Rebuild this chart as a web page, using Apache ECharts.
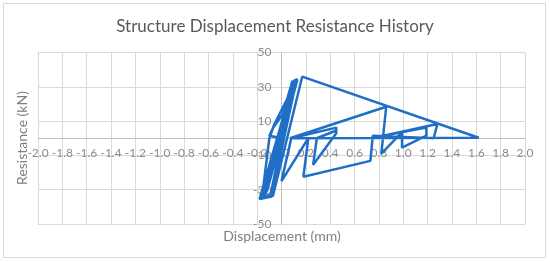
<!DOCTYPE html>
<html>
<head>
<meta charset="utf-8">
<script src="https://cdn.jsdelivr.net/npm/echarts@6/dist/echarts.min.js"></script>
<style>
    * { margin: 0; padding: 0; }
    body { background: #fff; }
    #main { width: 550px; height: 262px; }
</style>
</head>
<body>
<div id="main"></div>
<script>
    // displacement (mm) / resistance (kN) history
    let dispX = [
        0.00, -0.10, -0.07, 0.01, 0.09, -0.14, 0.11, -0.17, -0.08, 0.12,
        -0.16, -0.10, -0.06, 0.13, 0.10, -0.18, -0.08, 0.11, -0.13, 0.12,
        -0.15, -0.09, 0.10, -0.12, 0.13, -0.17, -0.07, 0.17,
        1.62, 0.07, 0.86, 0.82, 0.99, 0.99, 1.19, 1.19, 0.77, 1.28, 1.25,
        0.75, 0.73, 0.18, 0.22, 0.00, 0.08, 0.45, 0.45, 0.26, 0.29, 0.45
    ]
    let resY = [
        0.0, 1.5, 6.0, 14.0, 33.5, -33.0, 34.0, -35.0, -33.5, 33.0,
        -34.5, 0.0, 8.0, 34.5, 33.5, -35.5, -34.0, 32.0, -32.5, 34.0,
        -34.0, -33.0, 33.0, -31.0, 34.0, -35.0, -33.5, 35.9,
        0.3, 0.0, 18.4, -9.0, 3.5, -5.5, 1.5, 6.2, 0.5, 8.3, 0.0,
        1.5, -13.2, -22.4, 0.0, -25.0, 0.0, 6.2, 2.9, -15.5, 0.0, 4.5
    ]
    let xTicks = {min: -2, max: 2, step: 0.2}
    let yTicks = {min: -50, max: 50, step: 20}

    let points = dispX.map((x, i) => [x, resY[i]])

    // plot box, the axes cross at 0 like in the sheet
    let gLeft = 38, gRight = 25, gTop = 52.5, gBottom = 38
    let plotW = 550 - gLeft - gRight
    let plotH = 262 - gTop - gBottom
    let yAxisShift = plotW * (0 - xTicks.min) / (xTicks.max - xTicks.min)
    let xAxisShift = plotH * (0 - yTicks.min) / (yTicks.max - yTicks.min)

    let myChart = echarts.init(document.getElementById('main'))
    let option = {
        animation: false,
        title: {
            text: 'Structure Displacement Resistance History',
            left: 'center',
            top: 13,
            textStyle: {
                color: '#595959',
                fontFamily: 'Lato',
                fontSize: 17,
                fontWeight: 'normal'
            }
        },
        grid: {
            left: gLeft,
            right: gRight,
            top: gTop,
            bottom: gBottom
        },
        graphic: [
            {
                type: 'rect',
                shape: {x: 3.5, y: 3.5, width: 542, height: 254},
                style: {fill: 'none', stroke: '#d9d9d9', lineWidth: 1},
                silent: true
            },
            {
                type: 'text',
                x: 22,
                y: 138,
                rotation: Math.PI / 2,
                style: {
                    text: 'Resistance (kN)',
                    fill: '#7f7f7f',
                    font: '14px Lato',
                    align: 'center',
                    verticalAlign: 'middle'
                }
            },
            {
                type: 'text',
                x: 282,
                y: 236,
                style: {
                    text: 'Displacement (mm)',
                    fill: '#7f7f7f',
                    font: '14px Lato',
                    align: 'center',
                    verticalAlign: 'middle'
                }
            }
        ],
        xAxis: {
            type: 'value',
            min: xTicks.min,
            max: xTicks.max,
            interval: xTicks.step,
            offset: -xAxisShift,
            axisLine: {onZero: false, lineStyle: {color: '#bfbfbf', width: 1}},
            axisTick: {show: false},
            axisLabel: {
                interval: 0,
                margin: 9,
                color: '#8c8c8c',
                fontFamily: 'Lato',
                fontSize: 12,
                formatter: function (v) {
                    if (Math.abs(v) < 1e-9) return '0.0'
                    return v.toFixed(1)
                }
            },
            splitLine: {lineStyle: {color: '#d9d9d9', width: 1}}
        },
        yAxis: {
            type: 'value',
            min: yTicks.min,
            max: yTicks.max,
            interval: yTicks.step,
            offset: -yAxisShift,
            axisLine: {show: true, onZero: false, lineStyle: {color: '#bfbfbf', width: 1}},
            axisTick: {show: false},
            axisLabel: {
                margin: 10,
                color: '#8c8c8c',
                fontFamily: 'Lato',
                fontSize: 12
            },
            splitLine: {lineStyle: {color: '#d9d9d9', width: 1}}
        },
        series: [
            {
                name: 'History',
                type: 'line',
                data: points,
                showSymbol: false,
                symbol: 'none',
                lineStyle: {color: '#1f6fc6', width: 2.5}
            }
        ]
    };
    myChart.setOption(option)
</script>
</body>
</html>
